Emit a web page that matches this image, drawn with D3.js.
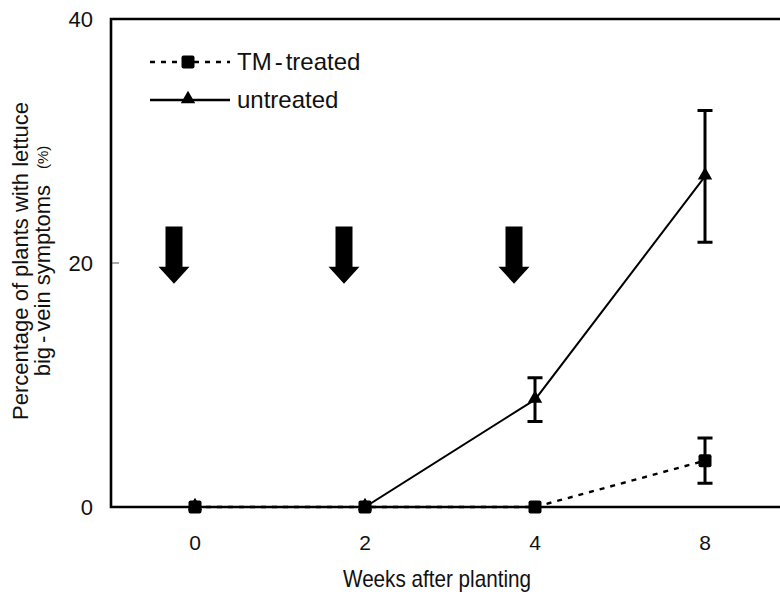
<!DOCTYPE html>
<html>
<head>
<meta charset="utf-8">
<script src="https://cdn.jsdelivr.net/npm/d3@7"></script>
<style>
  html, body { margin: 0; padding: 0; background: #fff; }
  svg { display: block; font-family: Arial, "Liberation Sans", sans-serif; }
</style>
</head>
<body>
<svg id="chart" width="780" height="594"></svg>
<script>
// Weeks after planting (categorical positions on the x axis)
const weeks = ["0", "2", "4", "8"];

// Percentage of plants with lettuce big-vein symptoms
const tmTreated = [0, 0, 0, 3.8];
const tmTreatedErr = [null, null, null, 1.85];
const untreated = [0, 0, 8.8, 27.1];
const untreatedErr = [null, null, 1.8, 5.4];

// Weeks at which the TM treatment was applied (arrows)
const treatmentWeeks = ["0", "2", "4"];

const yTicks = [0, 20, 40];

const svg = d3.select("#chart");

const x = d3.scalePoint().domain(weeks).range([110, 790]).padding(0.5);
const y = d3.scaleLinear().domain([0, 40]).range([507, 19]);

// Writes a hyphenated label with a little air around the hyphen
function hyphenated(sel, str, gap) {
  const parts = str.split("-");
  parts.forEach((p, i) => {
    if (i > 0) sel.append("tspan").attr("dx", gap).text("-");
    sel.append("tspan").attr("dx", i > 0 ? gap : null).text(p);
  });
}

// Frame: left axis, top edge and bottom axis
const frame = svg.append("g").attr("fill", "none").attr("stroke", "#000").attr("stroke-width", 2.6);
frame.append("path")
  .attr("d", `M780,${y(40)}H${x.range()[0] + 1}V${y(0)}H780`);

// Y ticks (inward) and labels
const yAxis = svg.append("g");
yAxis.selectAll("line").data(yTicks.filter(d => d > 0 && d < 40)).join("line")
  .attr("x1", 112).attr("x2", 119)
  .attr("y1", d => y(d)).attr("y2", d => y(d))
  .attr("stroke", "#555").attr("stroke-width", 1);
yAxis.selectAll("text").data(yTicks).join("text")
  .attr("x", 93).attr("y", d => y(d) + 8)
  .attr("text-anchor", "end").attr("font-size", 22).attr("fill", "#111")
  .text(d => d);

// X tick labels
svg.append("g").selectAll("text").data(weeks).join("text")
  .attr("x", d => x(d)).attr("y", 550)
  .attr("text-anchor", "middle").attr("font-size", 21).attr("fill", "#111")
  .text(d => d);

// Axis titles
svg.append("text")
  .attr("x", 343).attr("y", 587)
  .attr("font-size", 24).attr("fill", "#111")
  .attr("textLength", 188).attr("lengthAdjust", "spacingAndGlyphs")
  .text("Weeks after planting");

const yTitle = svg.append("g").attr("transform", "translate(0,261) rotate(-90)");
yTitle.append("text")
  .attr("x", 0).attr("y", 28)
  .attr("text-anchor", "middle").attr("font-size", 22).attr("fill", "#111")
  .text("Percentage of plants with lettuce");
const line2 = yTitle.append("text")
  .attr("x", 0).attr("y", 50)
  .attr("text-anchor", "middle").attr("font-size", 22).attr("fill", "#111");
hyphenated(line2, "big-vein symptoms", 4);
line2.append("tspan").attr("dx", 16).attr("dy", -2).attr("font-size", 15).text("(%)");

// Treatment arrows, drawn just left of each application week
const arrowOffset = -21;
svg.append("g").selectAll("path").data(treatmentWeeks).join("path")
  .attr("fill", "#000")
  .attr("d", d => {
    const cx = x(d) + arrowOffset;
    const top = y(23.0), neck = y(19.7), tip = y(18.3);
    return `M${cx - 8.5},${top}H${cx + 8.5}V${neck}H${cx + 15.5}L${cx},${tip}L${cx - 15.5},${neck}H${cx - 8.5}Z`;
  });

const line = d3.line().x((d, i) => x(weeks[i])).y(d => y(d));

function errorBars(values, errs) {
  const g = svg.append("g").attr("stroke", "#000").attr("stroke-width", 3).attr("fill", "none");
  const data = values.map((v, i) => ({ w: weeks[i], v, e: errs[i] })).filter(d => d.e != null);
  g.selectAll("path").data(data).join("path")
    .attr("d", d => {
      const cx = x(d.w), hi = y(d.v + d.e), lo = y(d.v - d.e);
      return `M${cx - 7.5},${hi}H${cx + 7.5}M${cx},${hi}V${lo}M${cx - 7.5},${lo}H${cx + 7.5}`;
    });
}

// Untreated series: solid line with triangles
svg.append("path").datum(untreated)
  .attr("d", line).attr("fill", "none").attr("stroke", "#000").attr("stroke-width", 2);
errorBars(untreated, untreatedErr);
const tri = d3.symbol().type(d3.symbolTriangle).size(90);
svg.append("g").selectAll("path").data(untreated).join("path")
  .attr("transform", (d, i) => `translate(${x(weeks[i])},${y(d) - 1})`)
  .attr("d", tri).attr("fill", "#000");

// TM-treated series: dashed line with squares
svg.append("path").datum(tmTreated)
  .attr("d", line).attr("fill", "none").attr("stroke", "#000").attr("stroke-width", 2.4)
  .attr("stroke-dasharray", "5,6");
errorBars(tmTreated, tmTreatedErr);
svg.append("g").selectAll("rect").data(tmTreated).join("rect")
  .attr("x", (d, i) => x(weeks[i]) - 6.5).attr("y", d => y(d) - 6.5)
  .attr("width", 13).attr("height", 13).attr("rx", 2).attr("fill", "#000");

// Legend
const legend = svg.append("g");
const legendItems = [
  { label: "TM-treated", dash: "5,6", marker: "square", yPos: 62 },
  { label: "untreated", dash: null, marker: "triangle", yPos: 100 }
];
legendItems.forEach(item => {
  legend.append("line")
    .attr("x1", 150).attr("x2", 230).attr("y1", item.yPos).attr("y2", item.yPos)
    .attr("stroke", "#000").attr("stroke-width", 2.4)
    .attr("stroke-dasharray", item.dash);
  if (item.marker === "square") {
    legend.append("rect")
      .attr("x", 188 - 6.5).attr("y", item.yPos - 6.5)
      .attr("width", 13).attr("height", 13).attr("rx", 2).attr("fill", "#000");
  } else {
    legend.append("path")
      .attr("transform", `translate(188,${item.yPos - 1})`)
      .attr("d", tri).attr("fill", "#000");
  }
  const t = legend.append("text")
    .attr("x", 237).attr("y", item.yPos + 8)
    .attr("font-size", 24).attr("fill", "#111");
  hyphenated(t, item.label, 3);
});
</script>
</body>
</html>
